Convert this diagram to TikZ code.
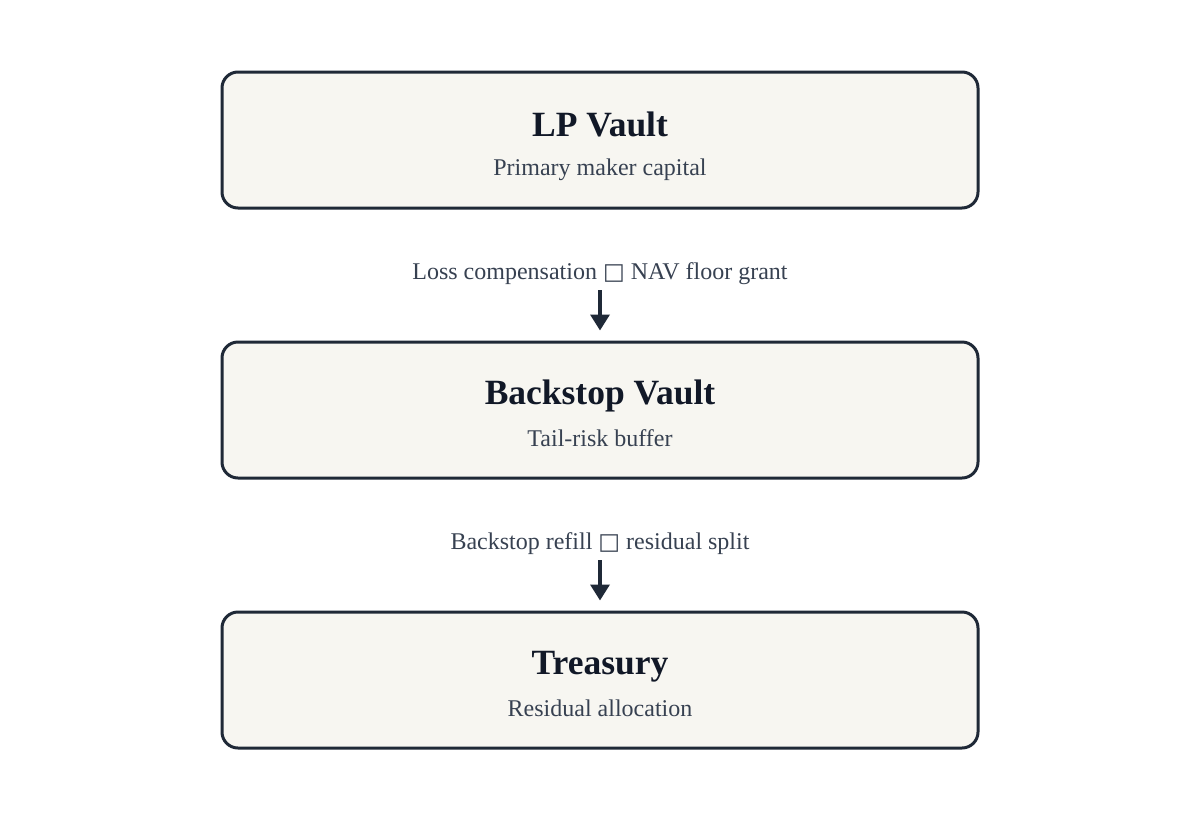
\documentclass[tikz,border=0pt]{standalone}
\usepackage{fontspec}
\setmainfont{Liberation Serif}
\newfontfamily\symfont{DejaVu Sans}
\usetikzlibrary{arrows.meta}
\definecolor{boxfill}{HTML}{F7F6F1}
\definecolor{boxline}{HTML}{1F2937}
\definecolor{titlecol}{HTML}{111827}
\definecolor{subcol}{HTML}{374151}
\tikzset{
  vaultbox/.style={draw=boxline, line width=3pt, fill=boxfill, rounded corners=16pt,
    minimum width=756pt, minimum height=136pt, inner sep=0pt},
  titletext/.style={anchor=base, inner sep=0pt, text=titlecol, font=\fontsize{35.5}{40}\selectfont\bfseries},
  subtext/.style={anchor=base, inner sep=0pt, text=subcol, font=\fontsize{24}{28}\selectfont},
  flowlabel/.style={anchor=base, inner sep=0pt, text=subcol, font=\fontsize{24}{28}\selectfont},
  flowarrow/.style={draw=boxline, line width=3.5pt, -{Triangle[length=16pt,width=19pt]},
    shorten <=11pt, shorten >=10pt}
}
\newcommand{\tofubox}{{\symfont\fontsize{23}{26}\selectfont □}}
\begin{document}
\begin{tikzpicture}[x=1pt,y=-1pt]
\useasboundingbox[fill=white] (0,0) rectangle (1200,820);
\node[vaultbox] (b1) at (600,140) {};
\node[vaultbox] (b2) at (600,410) {};
\node[vaultbox] (b3) at (600,680) {};
\node[titletext] (t1) at (600,136) {LP Vault};
\node[subtext] (s1) at (600,175) {Primary maker capital};
\node[titletext] (t2) at (600,404) {Backstop Vault};
\node[subtext] (s2) at (600,446) {Tail-risk buffer};
\node[titletext] (t3) at (600,674) {Treasury};
\node[subtext] (s3) at (600,716) {Residual allocation};
\node[flowlabel] (l1) at (600,279) {Loss compensation \tofubox\ NAV floor grant};
\node[flowlabel] (l2) at (600,549) {Backstop refill \tofubox\ residual split};
\draw[flowarrow] (l1.base) -- (b2.north);
\draw[flowarrow] (l2.base) -- (b3.north);
\end{tikzpicture}
\end{document}
